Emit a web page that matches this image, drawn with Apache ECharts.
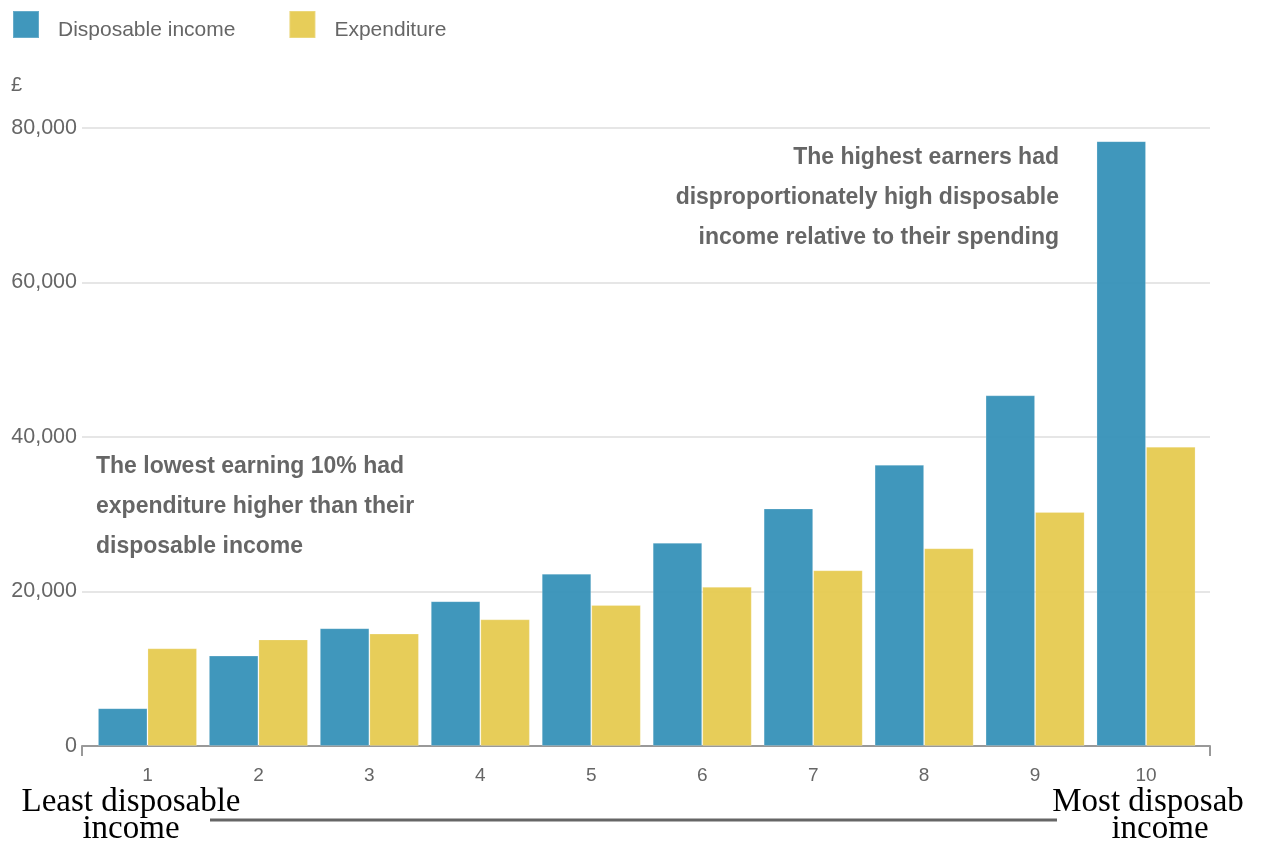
<!DOCTYPE html>
<html>
<head>
<meta charset="utf-8">
<script src="https://cdn.jsdelivr.net/npm/echarts@6/dist/echarts.min.js"></script>
<style>
  html, body { margin: 0; padding: 0; background: #fff; }
  #chart { width: 1261px; height: 841px; }
</style>
</head>
<body>
<div id="chart"></div>
<script>
// Household income deciles: disposable income vs expenditure (£)
const deciles = ['1', '2', '3', '4', '5', '6', '7', '8', '9', '10'];
const disposableIncome = [4900, 11700, 15250, 18750, 22300, 26300, 30750, 36400, 45400, 78300];
const expenditure = [12650, 13800, 14550, 16400, 18250, 20600, 22750, 25600, 30300, 38750];
const yTicks = { min: 0, max: 80000, interval: 20000 };

const BLUE = 'rgba(52,145,184,0.94)';
const YELLOW = 'rgba(230,202,79,0.94)';
const GREY = '#666';
const SANS = 'Arial, "Liberation Sans", sans-serif';
const SERIF = '"Liberation Serif", "Times New Roman", serif';

const chart = echarts.init(document.getElementById('chart'), null, { renderer: 'canvas' });

const option = {
  animation: false,
  backgroundColor: '#fff',
  textStyle: { fontFamily: SANS },
  legend: {
    left: 12, top: 10, padding: 0,
    icon: 'rect',
    itemWidth: 26, itemHeight: 27,
    itemGap: 53,
    formatter: '{t|{name}}',
    textStyle: {
      color: GREY, fontSize: 21,
      rich: { t: { color: GREY, fontSize: 21, padding: [11, 0, 0, 14] } }
    },
    data: ['Disposable income', 'Expenditure']
  },
  grid: [
    // frame grid: value gridlines, y labels and the baseline
    { left: 82, right: 51, top: 128, bottom: 95 },
    // bar grid
    { left: 92, right: 59.5, top: 128, bottom: 95 }
  ],
  xAxis: [
    {
      gridIndex: 0, type: 'value', min: 0, max: 1, interval: 1,
      axisLine: { show: true, lineStyle: { color: '#999', width: 2 } },
      axisTick: { show: true, length: 10, lineStyle: { color: '#999', width: 2 } },
      axisLabel: { show: false },
      splitLine: { show: false }
    },
    {
      gridIndex: 1, type: 'category', data: deciles,
      axisLine: { show: false },
      axisTick: { show: false },
      axisLabel: { color: GREY, fontSize: 19, margin: 20 }
    }
  ],
  yAxis: [
    {
      gridIndex: 0, type: 'value',
      min: yTicks.min, max: yTicks.max, interval: yTicks.interval,
      axisLine: { show: false },
      axisTick: { show: false },
      axisLabel: {
        color: GREY, fontSize: 21.5, margin: 5,
        formatter: v => v.toLocaleString('en-GB')
      },
      splitLine: { lineStyle: { color: '#e6e6e6', width: 2 } }
    },
    {
      gridIndex: 1, type: 'value',
      min: yTicks.min, max: yTicks.max, interval: yTicks.interval,
      show: false
    }
  ],
  series: [
    {
      name: 'Disposable income', type: 'bar',
      xAxisIndex: 1, yAxisIndex: 1,
      data: disposableIncome,
      barGap: '0%', barCategoryGap: '10.7%',
      itemStyle: { color: BLUE, borderColor: 'rgba(255,255,255,0.2)', borderWidth: 1 }
    },
    {
      name: 'Expenditure', type: 'bar',
      xAxisIndex: 1, yAxisIndex: 1,
      data: expenditure,
      barGap: '0%', barCategoryGap: '10.7%',
      itemStyle: { color: YELLOW, borderColor: 'rgba(255,255,255,0.2)', borderWidth: 1 }
    }
  ],
  graphic: [
    {
      type: 'text', x: 11, y: 85,
      style: { text: '£', fill: GREY, font: '20px ' + SANS, verticalAlign: 'middle' }
    },
    {
      type: 'text', x: 96, y: 447,
      style: {
        text: 'The lowest earning 10% had\nexpenditure higher than their\ndisposable income',
        fill: GREY, font: 'bold 23px ' + SANS,
        lineHeight: 40, verticalAlign: 'top', textAlign: 'left'
      }
    },
    {
      type: 'text', x: 1059, y: 138,
      style: {
        text: 'The highest earners had\ndisproportionately high disposable\nincome relative to their spending',
        fill: GREY, font: 'bold 23px ' + SANS,
        lineHeight: 40, verticalAlign: 'top', textAlign: 'right'
      }
    },
    {
      type: 'text', x: 131, y: 789,
      style: {
        text: 'Least disposable\nincome',
        fill: '#000', font: '33px ' + SERIF,
        lineHeight: 27, textAlign: 'center', verticalAlign: 'top'
      }
    },
    {
      type: 'text', x: 1148, y: 789,
      style: {
        text: 'Most disposab',
        fill: '#000', font: '33px ' + SERIF,
        lineHeight: 27, textAlign: 'center', verticalAlign: 'top'
      }
    },
    {
      type: 'text', x: 1160, y: 816,
      style: {
        text: 'income',
        fill: '#000', font: '33px ' + SERIF,
        lineHeight: 27, textAlign: 'center', verticalAlign: 'top'
      }
    },
    {
      type: 'line',
      shape: { x1: 210, y1: 820, x2: 1057, y2: 820 },
      style: { stroke: '#666', lineWidth: 3 }
    }
  ]
};

chart.setOption(option);
</script>
</body>
</html>
